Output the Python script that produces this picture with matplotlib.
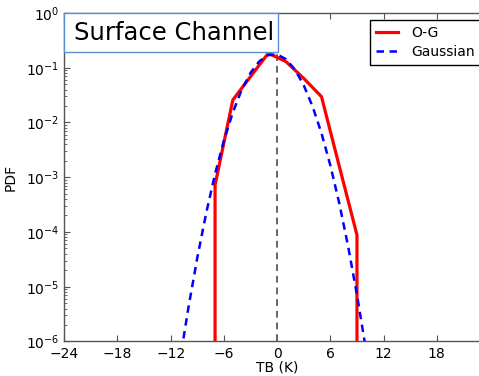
import matplotlib
matplotlib.use("Agg")
import matplotlib.pyplot as plt
from matplotlib.patches import Rectangle

# O-G histogram PDF (bin centres, K) -- ends drop below the axis
og_x = [-7, -7, -5, -3, -1, 1, 3, 5, 7, 9, 9]
og_y = [1e-9, 7.2e-4, 0.0257, 0.069, 0.184, 0.129, 0.0638, 0.0296, 1.6e-3, 8.8e-5, 1e-9]

# Gaussian curve
ga_x = [-12, -11, -10, -9, -8, -7, -6, -5, -4, -3, -2, -1, 0, 1, 2, 3, 4, 5, 6, 7, 8, 9, 10, 11]
ga_y = [3.2e-8, 4.1e-7, 4.2e-6, 3.4e-5, 2.22e-4, 1.15e-3, 4.69e-3, 0.0152, 0.0394, 0.0807,
        0.1315, 0.170, 0.175, 0.143, 0.0927, 0.0477, 0.0195, 6.35e-3, 1.64e-3, 3.37e-4,
        5.48e-5, 7.1e-6, 7.3e-7, 6.0e-8]

x_ticks = [-24, -18, -12, -6, 0, 6, 12, 18]
title_text = "Surface Channel"

fig = plt.figure(figsize=(4.79, 3.76), dpi=100)
ax = fig.add_axes([0.1342, 0.0918, 0.8888, 0.8737])

ax.plot(og_x, og_y, color="red", lw=2.3, label="O-G", zorder=3)
ax.plot(ga_x, ga_y, color="blue", lw=1.8, dashes=(3, 2.2), label="Gaussian", zorder=4)
ax.axvline(0, color="#666666", lw=1.4, dashes=(3.5, 2.5), zorder=2)

ax.set_yscale("log")
ax.set_xlim(-24, 24)
ax.set_ylim(1e-6, 1)
ax.set_xticks(x_ticks)
ax.set_xlabel("TB (K)", fontsize=10, labelpad=-0.5)
ax.set_ylabel("PDF", fontsize=10, labelpad=6)

for s in ax.spines.values():
    s.set_color("#555555")
    s.set_linewidth(1.0)
ax.tick_params(which="both", direction="in", top=True, right=True, colors="#555555",
               labelcolor="black", labelsize=10)
ax.tick_params(which="major", length=4)
ax.tick_params(which="minor", length=2)
ax.tick_params(axis="x", pad=4)

# title box
rect = Rectangle((0, 1 - 0.119), 0.502, 0.119, transform=ax.transAxes,
                 facecolor="white", edgecolor="#5b8fd0", lw=1.0, zorder=5, clip_on=False)
ax.add_patch(rect)
ax.text(0.023, 1 - 0.0595, title_text, transform=ax.transAxes, fontsize=17.5,
        ha="left", va="center", zorder=6)

leg = ax.legend(loc="upper left", bbox_to_anchor=(0.718, 0.979), borderaxespad=0,
                fontsize=10, frameon=True, fancybox=False, framealpha=1,
                handlelength=1.6, handletextpad=0.9, labelspacing=0.35, borderpad=0.45)
leg.get_frame().set_edgecolor("black")
leg.get_frame().set_linewidth(1.0)
leg.set_zorder(7)

fig.savefig("out.png", dpi=100)
